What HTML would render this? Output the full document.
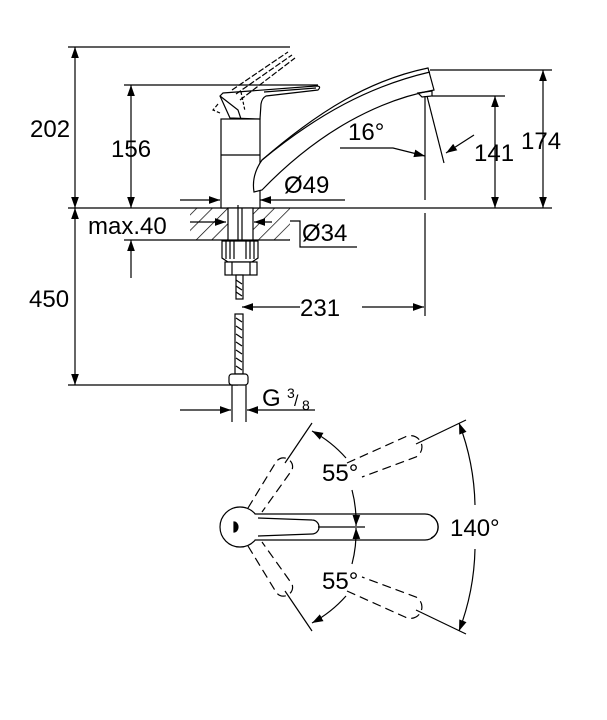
<!DOCTYPE html>
<html><head><meta charset="utf-8"><style>
html,body{margin:0;padding:0;background:#fff;}
svg{display:block;}
text{font-family:"Liberation Sans",sans-serif;fill:#000;}
</style></head><body>
<svg width="607" height="720" viewBox="0 0 607 720" xmlns="http://www.w3.org/2000/svg">
<defs>
<marker id="a" viewBox="0 0 10 10" refX="10" refY="5" markerWidth="11" markerHeight="11" markerUnits="userSpaceOnUse" orient="auto-start-reverse"><path d="M0,1.5L10,5L0,8.5z" fill="#000"/></marker>
<pattern id="h" width="11" height="11" patternUnits="userSpaceOnUse" patternTransform="rotate(45)"><line x1="0" y1="0" x2="0" y2="11" stroke="#000" stroke-width="1.4"/></pattern>
</defs>
<g stroke="#000" stroke-width="1.2" fill="none">
<line x1="68" y1="47" x2="290" y2="47"/>
<line x1="124" y1="85" x2="318" y2="85"/>
<line x1="68" y1="208" x2="552" y2="208"/>
<line x1="430" y1="70" x2="552" y2="70"/>
<line x1="432" y1="96" x2="505" y2="96"/>
<line x1="124" y1="240" x2="290" y2="240"/>
<line x1="68" y1="385" x2="238" y2="385"/>
<line x1="75" y1="47" x2="75" y2="208" marker-start="url(#a)" marker-end="url(#a)"/>
<line x1="131" y1="85" x2="131" y2="208" marker-start="url(#a)" marker-end="url(#a)"/>
<line x1="543" y1="70" x2="543" y2="208" marker-start="url(#a)" marker-end="url(#a)"/>
<line x1="495" y1="96" x2="495" y2="208" marker-start="url(#a)" marker-end="url(#a)"/>
<line x1="75" y1="208" x2="75" y2="385" marker-start="url(#a)" marker-end="url(#a)"/>
<line x1="131" y1="278" x2="131" y2="240" marker-end="url(#a)"/>
<polyline points="340,148 393,148 425,156" marker-end="url(#a)"/>
<line x1="425" y1="96" x2="425" y2="200"/>
<line x1="427" y1="96" x2="444" y2="163"/>
<line x1="474" y1="135" x2="446" y2="153" marker-end="url(#a)"/>
<line x1="180" y1="200" x2="220" y2="200" marker-end="url(#a)"/>
<line x1="345" y1="200" x2="260" y2="200" marker-end="url(#a)"/>
<line x1="190" y1="222" x2="226" y2="222" marker-end="url(#a)"/>
<line x1="272" y1="222" x2="254" y2="222" marker-end="url(#a)"/>
<polyline points="290,221 300,221 300,247 357,247"/>
<line x1="425" y1="213" x2="425" y2="316"/>
<line x1="300" y1="307" x2="242" y2="307" marker-end="url(#a)"/>
<line x1="362" y1="307" x2="424" y2="307" marker-end="url(#a)"/>
<line x1="232" y1="385" x2="232" y2="422"/>
<line x1="246" y1="385" x2="246" y2="422"/>
<line x1="180" y1="410" x2="231" y2="410" marker-end="url(#a)"/>
<line x1="315" y1="410" x2="247" y2="410" marker-end="url(#a)"/>
<rect x="190" y="208" width="38" height="32" fill="url(#h)" stroke="none"/>
<rect x="252" y="208" width="38" height="32" fill="url(#h)" stroke="none"/>
<rect x="221" y="119" width="39" height="89" fill="#fff"/>
<line x1="221" y1="155" x2="260" y2="155"/>
<!-- handle lever -->
<path d="M220,96 L223,93 L316,86 Q322,86 318,90 L266,96 Q262,98 261,104 L260,119 L230,118 Z" fill="#fff"/>
<path d="M220,96 L238,110 L241,119"/>
<path d="M264,92 L316,88" />
<path d="M218,104 L213,110 L220,113" stroke-dasharray="4 2"/>
<path d="M232,90 L288,52 M236,94 L292,55 M240,100 L295,58" stroke-dasharray="6 2"/>
<path d="M241,92 L245,111" stroke-dasharray="3 2"/>
<path d="M254,192 C252,180 255,170 262,160 C320,110 370,80 428,68 L434,90 C380,100 320,130 262,190 Z" fill="#fff"/>
<path d="M262,160 C318,114 370,86 430,72" />
<path d="M418,93 L432,91 L432,96 L422,97 Z"/>
<rect x="228" y="208" width="25" height="32" fill="#fff"/>
<line x1="238" y1="205" x2="238" y2="268"/>
<line x1="242" y1="208" x2="242" y2="268"/>
<path d="M222,241 L258,241 L258,258 L252,262 L228,262 L222,258 Z" fill="#fff"/>
<path d="M226,241v18M230,241v18M234,241v18M246,241v18M250,241v18M254,241v18"/>
<rect x="225" y="262" width="32" height="13" fill="#fff"/>
<line x1="232" y1="262" x2="232" y2="275"/><line x1="250" y1="262" x2="250" y2="275"/>
<rect x="236" y="275" width="7" height="24" fill="#fff"/>
<rect x="235" y="314" width="8" height="60" fill="#fff"/>
<path d="M236,280l6,4M236,286l6,4M236,292l6,4M236,318l6,4M236,326l6,4M236,334l6,4M236,342l6,4M236,350l6,4M236,358l6,4M236,366l6,4"/>
<rect x="229" y="374" width="19" height="11" rx="3" fill="#fff"/>
<circle cx="240" cy="527" r="20" fill="#fff"/>
<path d="M255,514 L425,514 A13,13 0 0 1 425,540 L255,540" fill="#fff"/>
<path d="M431,516 A12,12 0 0 1 431,538"/>
<path d="M258,518 L312,520 A7,7 0 0 1 312,534 L258,536"/>
<line x1="318" y1="527" x2="365" y2="527"/>
<path d="M234,522 A4,5 0 0 1 234,532 Z" fill="#000"/>
<g stroke-dasharray="9 5">
<path d="M248,508 L276,462 A9,9 0 0 1 292,470 L262,512"/>
<path d="M248,546 L276,592 A9,9 0 0 0 292,584 L262,542"/>
<path d="M347,463 L405,437 A9,9 0 0 1 416,457 L362,477"/>
<path d="M347,591 L405,617 A9,9 0 0 0 416,597 L362,577"/>
</g>
<line x1="285" y1="463" x2="312" y2="423"/>
<line x1="285" y1="591" x2="312" y2="631"/>
<line x1="416" y1="444" x2="466" y2="420"/>
<line x1="416" y1="610" x2="466" y2="634"/>
<path d="M346,458 A125,125 0 0 0 312,431" marker-end="url(#a)"/>
<path d="M352,490 A125,125 0 0 1 356,526" marker-end="url(#a)"/>
<path d="M346,596 A125,125 0 0 1 312,623" marker-end="url(#a)"/>
<path d="M352,564 A125,125 0 0 0 356,528" marker-end="url(#a)"/>
<path d="M475,505 A245,245 0 0 0 459,423" marker-end="url(#a)"/>
<path d="M475,549 A245,245 0 0 1 459,631" marker-end="url(#a)"/>
</g>
<g font-size="24">
<text x="30" y="137">202</text>
<text x="111" y="157">156</text>
<text x="521" y="149">174</text>
<text x="474" y="161">141</text>
<text x="348" y="140">16°</text>
<text x="284" y="193">Ø49</text>
<text x="88" y="234">max.40</text>
<text x="302" y="241">Ø34</text>
<text x="29" y="307">450</text>
<text x="300" y="316">231</text>
<text x="262" y="406">G</text>
<text x="322" y="481">55°</text>
<text x="322" y="589">55°</text>
<text x="450" y="536">140°</text>
</g>
<text x="287" y="398" font-size="14">3</text>
<text x="294" y="406" font-size="16">/</text>
<text x="302" y="410" font-size="14">8</text>
</svg>
</body></html>
